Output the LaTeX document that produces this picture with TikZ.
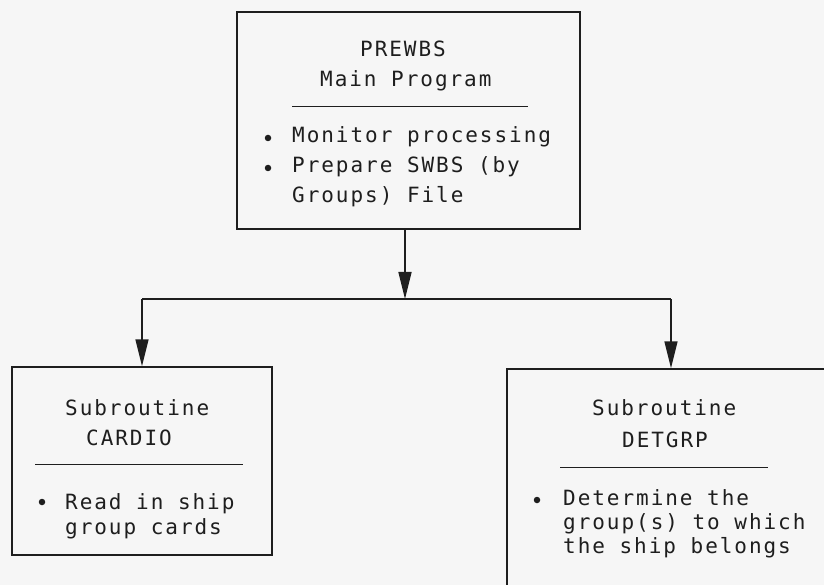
\documentclass[tikz,border=0pt]{standalone}
\usepackage{fontspec}
\usetikzlibrary{arrows.meta}
\newfontfamily\tw[LetterSpace=9.3]{DejaVu Sans Mono}
\definecolor{ink}{HTML}{1E1E1E}
\definecolor{paper}{HTML}{F6F6F6}
\begin{document}
\begin{tikzpicture}[x=1pt,y=-1pt,
  box/.style={draw=ink, line width=1.5pt, rectangle, inner sep=0pt},
  txt/.style={anchor=base west, inner sep=0pt, font=\tw\fontsize{21}{25}\selectfont, text=ink},
  dot/.style={circle, fill=ink, inner sep=0pt, minimum size=6.5pt},
  rulel/.style={draw=ink, line width=1pt},
  link/.style={draw=ink, line width=1.5pt},
  arr/.style={link, -{Triangle[length=27pt,width=13pt]}}]
\useasboundingbox (0,0) rectangle (824,585);
\fill[paper] (0,0) rectangle (824,585);
\clip (0,0) rectangle (824,585);

% main box
\node[box, minimum width=343pt, minimum height=217pt] (main) at (408.5,120.5) {};
\node[txt] (m1) at (360,57) {PREWBS};
\node[txt] (m2) at (320,87) {Main Program};
\draw[rulel] (292,107) -- (528,107);
\node[dot] (md1) at (268,138) {};
\node[txt] (m3) at (292,143) {Monitor processing};
\node[dot] (md2) at (268,168) {};
\node[txt] (m4) at (292,173) {Prepare SWBS (by};
\node[txt] (m5) at (292,203) {Groups) File};

% left box
\node[box, minimum width=260pt, minimum height=188pt] (cardio) at (142,461) {};
\node[txt] (c1) at (65,415) {Subroutine};
\node[txt] (c2) at (86,445) {CARDIO};
\draw[rulel] (35,464) -- (243,464);
\node[dot] (cd1) at (42,502) {};
\node[txt] (c3) at (65,509) {Read in ship};
\node[txt] (c4) at (65,534) {group cards};

% right box
\node[box, minimum width=328pt, minimum height=241pt] (detgrp) at (671,489.5) {};
\node[txt] (d1) at (592,415) {Subroutine};
\node[txt] (d2) at (622,447) {DETGRP};
\draw[rulel] (560,467) -- (768,467);
\node[dot] (dd1) at (537,500) {};
\node[txt] (d3) at (563,505) {Determine the};
\node[txt] (d4) at (563,529) {group(s) to which};
\node[txt] (d5) at (563,553) {the ship belongs};

% connectors
\coordinate (j) at (405,299);
\draw[arr] (j |- main.south) -- (j);
\draw[link] (cardio.north |- j) -- (detgrp.north |- j);
\draw[arr] (cardio.north |- j) -- (cardio.north);
\draw[arr] (detgrp.north |- j) -- (detgrp.north);
\end{tikzpicture}
\end{document}
